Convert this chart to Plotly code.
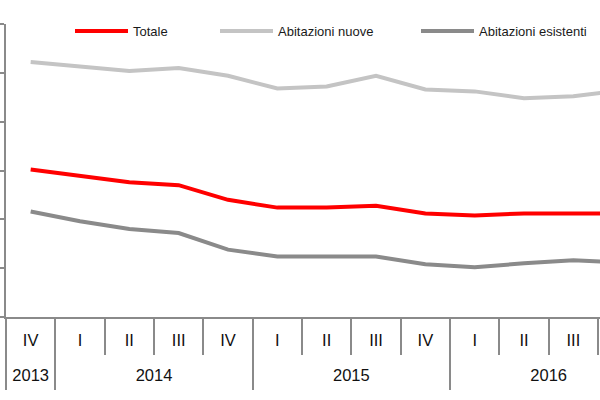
import plotly.graph_objects as go

# ---- data ----
quarters = ["IV", "I", "II", "III", "IV", "I", "II", "III", "IV", "I", "II", "III", "IV"]
years = ["2013", "2014", "2015", "2016"]
quarters_per_year = [1, 4, 4, 4]
totale = [90.1, 89.5, 88.8, 88.5, 87.0, 86.2, 86.2, 86.4, 85.6, 85.4, 85.6, 85.6, 85.6]
nuove = [101.1, 100.6, 100.2, 100.5, 99.7, 98.4, 98.6, 99.7, 98.3, 98.1, 97.4, 97.6, 98.2]
esistenti = [85.8, 84.8, 84.0, 83.6, 81.9, 81.2, 81.2, 81.2, 80.4, 80.1, 80.5, 80.8, 80.6]
y_ticks = [75, 80, 85, 90, 95, 100, 105]

idx = list(range(len(quarters)))
q_bounds = [i - 0.5 for i in range(len(quarters) + 1)]
y_bounds = [-0.5]
y_centers = []
start = 0
for n in quarters_per_year:
    y_centers.append(start + (n - 1) / 2)
    start += n
    y_bounds.append(start - 0.5)

FONT = "Liberation Sans, Arial, sans-serif"
AX = "#8a8a8a"
XR = [-0.5, 11.54]

fig = go.Figure()
series = [
    ("Totale", totale, "#ff0000", "legend", "x"),
    ("Abitazioni nuove", nuove, "#c4c4c4", "legend2", "x2"),
    ("Abitazioni esistenti", esistenti, "#8a8a8a", "legend3", "x3"),
]
for name, vals, col, lg, xa in series:
    fig.add_trace(go.Scatter(x=idx, y=vals, mode="lines", name=name, showlegend=True,
                             xaxis=xa, yaxis="y", hoverinfo="skip",
                             line=dict(color=col, width=4), legend=lg))

leg_common = dict(orientation="h", xref="container", yref="container",
                  yanchor="middle", xanchor="left", y=1 - 31 / 400,
                  font=dict(family=FONT, size=13, color="#1a1a1a"),
                  bgcolor="rgba(0,0,0,0)", itemwidth=53, visible=True)

common_x = dict(anchor="y", side="bottom", range=XR, showgrid=False, zeroline=False,
                automargin=False)

fig.update_layout(
    width=600, height=400,
    showlegend=True,
    margin=dict(l=6, r=0, t=24, b=83, autoexpand=False),
    paper_bgcolor="white", plot_bgcolor="white",
    legend=dict(leg_common, x=70 / 600),
    legend2=dict(leg_common, x=215 / 600),
    legend3=dict(leg_common, x=416 / 600),
    yaxis=dict(range=[y_ticks[0], y_ticks[-1]], tickvals=y_ticks, showticklabels=False,
               ticks="outside", ticklen=6, tickwidth=2, tickcolor=AX, automargin=False,
               showline=True, linecolor=AX, linewidth=2, showgrid=False, zeroline=False),
    xaxis=dict(common_x, tickvals=y_bounds, showticklabels=False,
               ticks="outside", ticklen=71, tickwidth=2, tickcolor=AX,
               minor=dict(tickmode="array", tickvals=q_bounds, ticks="outside",
                          ticklen=36, tickwidth=2, tickcolor=AX, showgrid=False),
               showline=True, linecolor=AX, linewidth=2),
    xaxis2=dict(common_x, overlaying="x",
                tickvals=idx, ticktext=quarters, ticks="",
                tickfont=dict(family=FONT, size=16.5, color="#111111"),
                ticklabelstandoff=11),
    xaxis3=dict(common_x, overlaying="x",
                tickvals=y_centers, ticktext=years, ticks="",
                tickfont=dict(family=FONT, size=16.5, color="#111111"),
                ticklabelstandoff=46),
)

fig.write_html("out.html", config={"displayModeBar": False},
               post_script="document.body.style.margin='0px';")
